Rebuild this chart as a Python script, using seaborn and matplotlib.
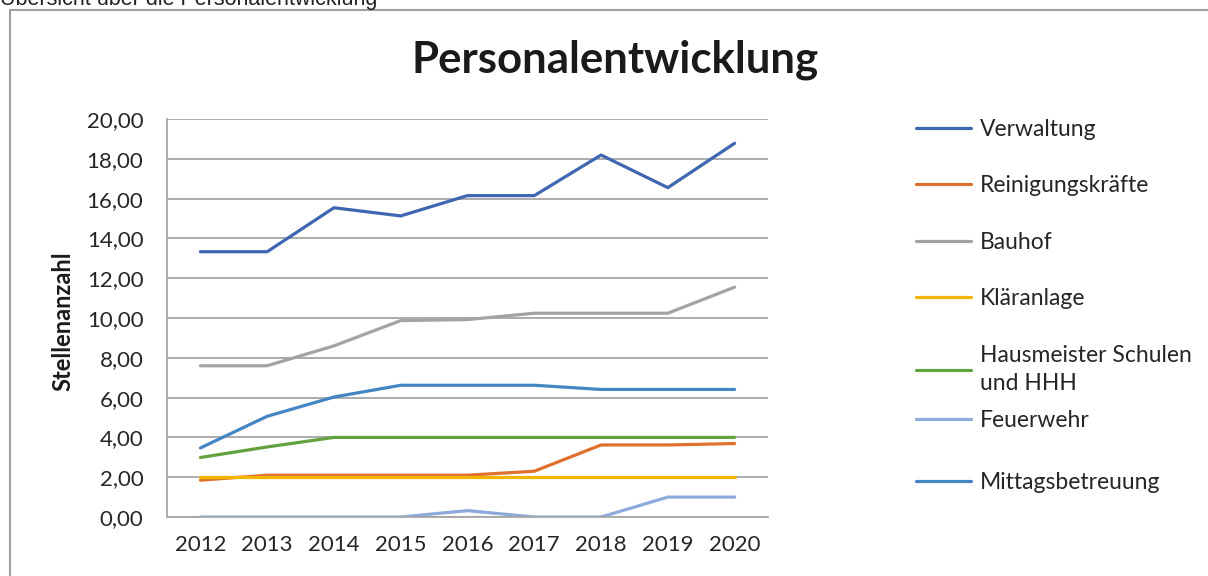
import numpy as np
import pandas as pd
import matplotlib
matplotlib.use("Agg")
import matplotlib.pyplot as plt
from matplotlib.lines import Line2D
from matplotlib.patches import Rectangle
import seaborn as sns

years = [2012, 2013, 2014, 2015, 2016, 2017, 2018, 2019, 2020]

verwaltung = [13.33, 13.33, 15.54, 15.13, 16.15, 16.15, 18.19, 16.55, 18.78]
reinigung = [1.85, 2.10, 2.10, 2.10, 2.10, 2.30, 3.62, 3.62, 3.69]
bauhof = [7.60, 7.60, 8.60, 9.87, 9.92, 10.24, 10.24, 10.24, 11.55]
klaeranlage = [2.00, 2.00, 2.00, 2.00, 2.00, 2.00, 2.00, 2.00, 2.00]
hausmeister = [2.99, 3.52, 4.00, 4.00, 4.00, 4.00, 4.00, 4.00, 4.00]
feuerwehr = [0.00, 0.00, 0.00, 0.00, 0.32, 0.00, 0.00, 1.00, 1.00]
mittag = [3.47, 5.06, 6.03, 6.62, 6.62, 6.62, 6.41, 6.41, 6.41]

series_names = ["Verwaltung", "Reinigungskräfte", "Bauhof", "Kläranlage",
                "Hausmeister Schulen\nund HHH", "Feuerwehr", "Mittagsbetreuung"]
series_values = [verwaltung, reinigung, bauhof, klaeranlage, hausmeister, feuerwehr, mittag]
colors = ["#3F66B0", "#E0702E", "#A3A3A3", "#F2B600", "#62A33F", "#8EA9DB", "#4485C4"]

rows = []
for name, vals in zip(series_names, series_values):
    for y, v in zip(years, vals):
        rows.append({"Jahr": y, "Wert": v, "Bereich": name})
df = pd.DataFrame(rows)

sns.set_style("white")
plt.rcParams["font.family"] = ["Lato", "DejaVu Sans"]

fig = plt.figure(figsize=(12.08, 5.76), dpi=100)
ax = fig.add_axes([167 / 1208, 1 - 517 / 576, (768 - 167) / 1208, (517 - 119) / 576])

sns.lineplot(data=df, x="Jahr", y="Wert", hue="Bereich", hue_order=series_names,
             palette=dict(zip(series_names, colors)), linewidth=2.3, ax=ax, legend=False)

ax.set_xlim(2011.5, 2020.5)
ax.set_ylim(0, 20)
ax.set_yticks(np.arange(0, 21, 2))
ax.set_yticklabels([f"{v:.2f}".replace(".", ",") for v in np.arange(0, 21, 2)])
ax.set_xticks(years)
ax.set_xticklabels([str(y) for y in years])
ax.tick_params(axis="both", labelsize=16, colors="#262626", length=0)
ax.tick_params(axis="y", pad=17)
ax.tick_params(axis="x", pad=13)
ax.grid(axis="y", color="#A6A6A6", linewidth=1.3)
ax.set_axisbelow(True)
for s in ["top", "right"]:
    ax.spines[s].set_visible(False)
for s in ["left", "bottom"]:
    ax.spines[s].set_color("#A6A6A6")
    ax.spines[s].set_linewidth(1.3)
ax.set_xlabel("")
ax.set_ylabel("Stellenanzahl", fontsize=17, fontweight="bold", color="#1a1a1a")
ax.yaxis.set_label_coords((74 - 167) / 601, 0.491)

fig.text(615 / 1208, 1 - 72 / 576, "Personalentwicklung", ha="center", va="baseline",
         fontsize=31.5, fontweight="bold", color="#1a1a1a")

fig.text(0.0, 1 - 5 / 576, "Übersicht über die Personalentwicklung", ha="left", va="baseline",
         fontsize=15.5, family=["Liberation Sans", "DejaVu Sans"], color="#222222")

fig.patches.append(Rectangle((10 / 1208, -0.05), 1.2, 1 - 10 / 576 + 0.05, transform=fig.transFigure,
                             fill=False, edgecolor="#A0A0A0", linewidth=1.5))

handles = [Line2D([0], [0], color=c, linewidth=2.3) for c in colors]
leg1 = fig.legend(handles[:5], series_names[:5], loc="upper left",
                  bbox_to_anchor=(895 / 1208, 1 - 98 / 576), frameon=False,
                  fontsize=16.5, handlelength=2.4, handletextpad=0.4, labelspacing=1.55,
                  labelcolor="#262626")
leg1.get_texts()[4].set_linespacing(1.45)
leg2 = fig.legend(handles[5:], series_names[5:], loc="upper left",
                  bbox_to_anchor=(895 / 1208, 1 - 389 / 576), frameon=False,
                  fontsize=16.5, handlelength=2.4, handletextpad=0.4, labelspacing=1.8,
                  labelcolor="#262626")

fig.savefig("out.png", dpi=100)
